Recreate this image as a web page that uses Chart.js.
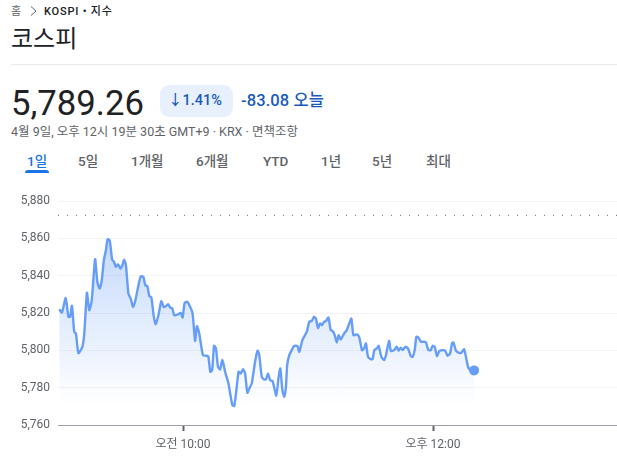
<!DOCTYPE html>
<html lang="ko">
<head>
<meta charset="utf-8">
<title>코스피</title>
<script src="https://cdn.jsdelivr.net/npm/chart.js@4/dist/chart.umd.min.js"></script>
<style>
    html, body { margin: 0; padding: 0; background: #fff; overflow: hidden; }
    body { width: 617px; height: 456px; position: relative; font-family: Roboto, "Noto Sans CJK KR", sans-serif; color: #202124; }
    .abs { position: absolute; white-space: nowrap; line-height: 1; }
    #chartBox { position: absolute; left: 0; top: 190px; width: 617px; height: 266px; }
</style>
</head>
<body>
<div class="abs" style="left:11px;top:6px;font-size:11px;color:#5f6368">홈</div>
<svg class="abs" style="left:29px;top:5px" width="9" height="12"><path d="M2 1.5 L7 6 L2 10.5" fill="none" stroke="#5f6368" stroke-width="1"/></svg>
<div class="abs" style="left:44px;top:6px;font-size:11px;font-weight:500;letter-spacing:.8px">KOSPI • 지수</div>
<div class="abs" style="left:11px;top:27px;font-size:24px">코스피</div>
<div class="abs" style="left:11px;top:64px;width:606px;height:1px;background:#e8eaed"></div>
<div class="abs" style="left:11px;top:86px;font-size:34.7px">5,789.26</div>
<div class="abs" style="left:160px;top:85px;width:73px;height:32px;background:#e8f0fe;border-radius:9px"></div>
<div class="abs" style="left:168px;top:94px;font-size:14.5px;font-weight:500;color:#185abc">↓1.41%</div>
<div class="abs" style="left:241px;top:93px;font-size:16.5px;font-weight:500;letter-spacing:.1px;color:#185abc">-83.08 오늘</div>
<div class="abs" style="left:11px;top:126px;font-size:12.5px;color:#5f6368">4월 9일, 오후 12시 19분 30초 GMT+9 · KRX · 면책조항</div>
<div id="tabs"></div>
<div class="abs" style="left:25px;top:170px;width:24px;height:3px;background:#1a73e8;border-radius:3px 3px 0 0"></div>
<div id="chartBox"><canvas id="kospiChart"></canvas></div>

<script>
// minutes after 09:00
const minutes = [
    0.6, 1.9, 3.7, 5, 5.8, 6.7, 7.8, 8.6, 9.8, 11.7, 12.6, 13.9, 15, 16.2, 17.8, 18.9, 20, 21, 22, 23,
    23.8, 24.8, 26, 26.9, 27.8, 28.8, 30, 30.9, 31.7, 32.6, 33.8, 34.9, 36, 37, 38.6, 39.8, 41, 41.9, 42.9, 43.8,
    44.8, 46, 46.9, 48.2, 49.6, 50.7, 51.8, 52.8, 53.9, 54.9, 55.8, 57.8, 58.9, 59.8, 60.8, 62, 63.4, 64.6, 65.8, 66.7,
    67.8, 69.6, 71.4, 72.2, 73.1, 74, 74.9, 75.8, 76.8, 77.8, 78.9, 80.2, 81.8, 82.9, 83.7, 84.6, 85.8, 86.7, 87.7, 88.8,
    89.8, 90.9, 92.2, 93, 94.6, 95.8, 96.6, 97.8, 98.9, 99.8, 100.8, 101.8, 103, 104.8, 105.8, 106.7, 107.7, 108.6, 109.4, 110,
    111, 112.2, 113.3, 114.9, 115.8, 117.3, 119.4, 120.6, 121.8, 122.9, 123.8, 124.8, 125.8, 126.7, 127.7, 128.6, 129.8, 130.9, 131.8, 132.8,
    133.8, 134.7, 135.7, 137.3, 138.6, 139.8, 140.8, 141.8, 143.4, 144.6, 145.9, 146.9, 147.8, 148.8, 150.1, 151, 151.8, 153, 153.9, 155.2,
    156.5, 157.4, 158.9, 159.8, 161.3, 162.6, 163.5, 164.5, 165.4, 166.7, 168, 169.3, 170.2, 171.2, 172, 173, 174.2, 175.7, 176.6, 177.8,
    178.9, 179.8, 180.8, 181.9, 183, 185, 185.9, 187, 188.2, 189.1, 189.8, 191, 192.5, 193.6, 194.9, 195.8, 196.9, 198.1, 199.7
];
const prices = [
    5822, 5820.3, 5828.1, 5817.9, 5817.9, 5823.8, 5809.9, 5809, 5798.5, 5801.9, 5809, 5830.8, 5821.5, 5826.8, 5848.8, 5836.6, 5833.1, 5837.5, 5848.2, 5853.6,
    5859.5, 5858.9, 5848.6, 5847.4, 5844.7, 5846.1, 5843.8, 5845.6, 5848.6, 5845.6, 5830.4, 5827.7, 5823.3, 5826, 5834.9, 5839.7, 5839.3, 5834.9, 5834.3, 5829.2,
    5828.3, 5817.9, 5814, 5818.8, 5826.3, 5823.3, 5823.6, 5824.7, 5822.9, 5822.4, 5818.8, 5819.4, 5820.1, 5817.6, 5825.4, 5826, 5823.3, 5819.7, 5805.1, 5812.9,
    5809, 5797.4, 5797.1, 5796.5, 5788.5, 5789.4, 5802.4, 5801, 5791.2, 5789.8, 5794.8, 5788.5, 5782.3, 5775.2, 5770.7, 5770.2, 5780.5, 5788.5, 5787.6, 5789.9,
    5787.6, 5777.3, 5780.5, 5782.3, 5793.9, 5799.8, 5797.4, 5785.8, 5784.4, 5784.4, 5787.6, 5784.1, 5783.5, 5775.7, 5785, 5790.3, 5778.7, 5775.2, 5780.5, 5792.1,
    5797.4, 5800.1, 5802.3, 5802.3, 5799.2, 5805.5, 5809.9, 5815.3, 5815.8, 5817.9, 5817, 5812, 5814.4, 5813.5, 5815.3, 5815.6, 5817.6, 5810.8, 5810.4, 5808.1,
    5804.2, 5808.1, 5805.8, 5809, 5810.8, 5814.4, 5817, 5808.1, 5808.5, 5806.9, 5800.1, 5801, 5803.7, 5796.5, 5795.3, 5795.3, 5800.1, 5801, 5802.4, 5796.5,
    5794.8, 5797.4, 5805.1, 5799.6, 5800.1, 5801.9, 5799.8, 5801.4, 5800.1, 5801.9, 5801, 5796.9, 5796.5, 5800.1, 5807.2, 5806.9, 5804.6, 5804.6, 5804.2, 5800.1,
    5800.1, 5802.4, 5801.9, 5796.9, 5799.6, 5800.1, 5799.6, 5797.1, 5798.3, 5803.7, 5804.2, 5799.8, 5798.7, 5798.7, 5800.6, 5796.5, 5790.8, 5789.4, 5789.26
];
const prevClose = 5872.34;
const xTickMinutes = [60, 180];
const xTickLabels = ["오전 10:00", "오후 12:00"];
const tabLabels = ["1일", "5일", "1개월", "6개월", "YTD", "1년", "5년", "최대"];
const tabLeft = [27, 78, 131, 196, 263, 321, 372, 426];

tabLabels.forEach((t, i) => {
    const d = document.createElement("div");
    d.className = "abs";
    d.textContent = t;
    d.style.cssText = "left:" + tabLeft[i] + "px;top:155px;font-size:13.5px;font-weight:500;color:" + (i === 0 ? "#1a73e8" : "#5f6368");
    document.getElementById("tabs").appendChild(d);
});

const labelFont = { family: 'Roboto, "Noto Sans CJK KR", sans-serif', size: 12 };
const X_MAX = 268.3;

new Chart(document.getElementById("kospiChart"), {
    type: "line",
    data: {
        datasets: [{
            data: minutes.map((m, i) => ({ x: m, y: prices[i] })),
            borderColor: "#669df6",
            borderWidth: 2.4,
            tension: 0.2,
            fill: "start",
            backgroundColor: (c) => {
                const area = c.chart.chartArea;
                if (!area) return "transparent";
                const g = c.chart.ctx.createLinearGradient(0, area.top + 38, 0, area.top + 204);
                g.addColorStop(0, "rgba(102,157,246,0.38)");
                g.addColorStop(1, "rgba(102,157,246,0)");
                return g;
            },
            pointRadius: (c) => c.dataIndex === minutes.length - 1 ? 5 : 0,
            pointBackgroundColor: "#669df6",
            pointBorderWidth: 0
        }, {
            data: [{ x: 0, y: prevClose }, { x: X_MAX, y: prevClose }],
            borderColor: "#5f6368",
            borderWidth: 1,
            borderDash: [1, 8],
            pointRadius: 0,
            fill: false
        }]
    },
    options: {
        responsive: true,
        maintainAspectRatio: false,
        animation: false,
        // autoPadding would keep room for the end dot and stop the plot short of the window edge
        layout: { autoPadding: false, padding: { top: 11, right: 0, left: 0, bottom: 0 } },
        plugins: { legend: { display: false }, tooltip: { enabled: false } },
        scales: {
            x: {
                type: "linear",
                min: 0,
                max: X_MAX,
                afterBuildTicks: (axis) => { axis.ticks = xTickMinutes.map(v => ({ value: v })); },
                afterFit: (axis) => { axis.height = 31; axis.paddingLeft = 0; axis.paddingRight = 0; },
                ticks: {
                    autoSkip: false,
                    maxRotation: 0,
                    padding: 7,
                    color: "#5f6368",
                    font: labelFont,
                    callback: (v) => xTickLabels[xTickMinutes.indexOf(v)]
                },
                grid: { drawOnChartArea: false, tickLength: 6, tickColor: "#5f6368", tickWidth: 2 },
                border: { color: "#9aa0a6", width: 1 }
            },
            y: {
                min: 5760,
                max: 5880,
                afterFit: (axis) => { axis.width = 58; axis.paddingTop = 0; axis.paddingBottom = 0; },
                ticks: {
                    stepSize: 20,
                    padding: 8,
                    color: "#5f6368",
                    font: labelFont,
                    callback: (v) => v.toLocaleString("en-US")
                },
                grid: { color: "#f1f3f4", drawTicks: false, tickLength: 0 },
                border: { display: false }
            }
        }
    }
});
</script>
</body>
</html>
